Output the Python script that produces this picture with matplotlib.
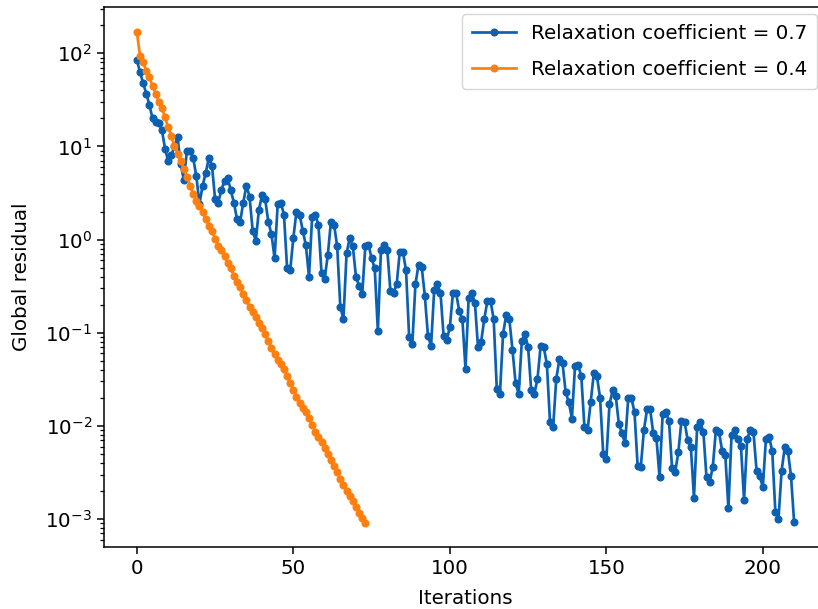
import matplotlib
matplotlib.use("Agg")
import matplotlib.pyplot as plt

# Relaxation coefficient = 0.7 (iterations 0..210)
residual_07 = [
    85, 63, 48, 37, 28, 20, 18.5, 18, 15, 9.5,
    7, 8, 10, 12.5, 6.5, 4.4, 9, 9, 7.5, 4.8,
    2.4, 3.8, 5.2, 7.5, 6.2, 2.7, 2.5, 3.4, 4.3, 4.6,
    3.4, 2.5, 1.65, 1.55, 2.5, 3.8, 2.9, 1.25, 0.97, 2.1,
    3.0, 2.7, 1.55, 1.15, 0.63, 2.4, 2.5, 1.85, 0.49, 0.47,
    1.05, 2.0, 1.85, 1.25, 0.87, 0.40, 1.75, 1.85, 1.45, 0.44,
    0.38, 0.68, 1.55, 1.45, 0.85, 0.19, 0.14, 0.71, 1.04, 0.85,
    0.40, 0.32, 0.26, 0.85, 0.88, 0.63, 0.49, 0.105, 0.78, 0.88,
    0.78, 0.28, 0.27, 0.33, 0.74, 0.74, 0.47, 0.089, 0.075, 0.33,
    0.54, 0.51, 0.25, 0.093, 0.072, 0.29, 0.33, 0.27, 0.093, 0.083,
    0.115, 0.27, 0.27, 0.17, 0.14, 0.041, 0.235, 0.27, 0.21, 0.07,
    0.08, 0.14, 0.22, 0.22, 0.14, 0.025, 0.022, 0.097, 0.155, 0.14,
    0.066, 0.029, 0.022, 0.082, 0.097, 0.07, 0.024, 0.022, 0.032, 0.072,
    0.07, 0.046, 0.011, 0.0097, 0.032, 0.052, 0.047, 0.023, 0.018, 0.012,
    0.044, 0.045, 0.034, 0.0097, 0.009, 0.018, 0.037, 0.034, 0.02, 0.005,
    0.0044, 0.017, 0.024, 0.021, 0.0105, 0.0083, 0.0065, 0.02, 0.02, 0.014,
    0.0037, 0.0036, 0.009, 0.015, 0.015, 0.0083, 0.0074, 0.0028, 0.0135, 0.014,
    0.0114, 0.0035, 0.0032, 0.0052, 0.0114, 0.011, 0.007, 0.0059, 0.0017, 0.0097,
    0.011, 0.0086, 0.0028, 0.0025, 0.0036, 0.009, 0.0086, 0.0054, 0.0049, 0.0013,
    0.0079, 0.009, 0.0072, 0.0061, 0.0016, 0.0073, 0.009, 0.0086, 0.0033, 0.0029,
    0.0022, 0.0073, 0.0076, 0.0054, 0.0012, 0.001, 0.0033, 0.0059, 0.0054, 0.0029,
    0.00092,
]

# Relaxation coefficient = 0.4 (iterations 0..73)
residual_04 = [
    170, 94, 80, 65, 55, 45, 37, 30, 25.6, 20.5,
    16, 13, 10.2, 8.3, 7.0, 5.7, 4.7, 3.8, 3.1, 2.6,
    2.3, 1.96, 1.67, 1.41, 1.25, 1.02, 0.86, 0.77, 0.66, 0.56,
    0.49, 0.41, 0.35, 0.31, 0.26, 0.225, 0.19, 0.165, 0.147, 0.128,
    0.113, 0.096, 0.081, 0.069, 0.059, 0.051, 0.046, 0.041, 0.034, 0.029,
    0.0245, 0.0205, 0.0176, 0.0157, 0.0142, 0.0123, 0.0103, 0.0087, 0.0076, 0.0067,
    0.0058, 0.005, 0.0043, 0.0037, 0.0032, 0.0027, 0.0023, 0.002, 0.00175, 0.00155,
    0.00135, 0.00117, 0.00103, 0.00091,
]

labels = ["Relaxation coefficient = 0.7", "Relaxation coefficient = 0.4"]
colors = ["#0a60b2", "#ff7f0e"]

fs = 14.3
plt.rcParams["font.family"] = ["DejaVu Sans"]
plt.rcParams["font.size"] = fs

fig = plt.figure(figsize=(8.18, 6.09), dpi=100)
ax = fig.add_axes([104 / 818, 62 / 609, 723 / 818, 540 / 609])

it07 = list(range(len(residual_07)))
it04 = list(range(len(residual_04)))
ax.plot(it07, residual_07, marker="o", markersize=4.8, linewidth=1.95,
        color=colors[0], label=labels[0])
ax.plot(it04, residual_04, marker="o", markersize=4.8, linewidth=1.95,
        color=colors[1], label=labels[1])

ax.set_yscale("log")
ax.set_xlim(-10.5, 220.5)
ax.set_ylim(10 ** -3.30, 10 ** 2.497)
ax.set_xticks([0, 50, 100, 150, 200])
ax.tick_params(axis="both", which="major", labelsize=fs, length=5.0, width=1.1)
ax.tick_params(axis="both", which="minor", length=2.9, width=0.9)
for s in ax.spines.values():
    s.set_linewidth(1.1)
ax.spines["right"].set_visible(False)

ax.set_xlabel("Iterations", fontsize=fs, labelpad=8)
ax.set_ylabel("Global residual", fontsize=fs, labelpad=10)
ax.legend(loc="upper right", fontsize=fs, borderaxespad=0,
          bbox_to_anchor=(817 / 818, 595 / 609), bbox_transform=fig.transFigure,
          borderpad=0.5, labelspacing=0.85, handlelength=2.2, handletextpad=0.75)

fig.savefig("out.png", dpi=100)
